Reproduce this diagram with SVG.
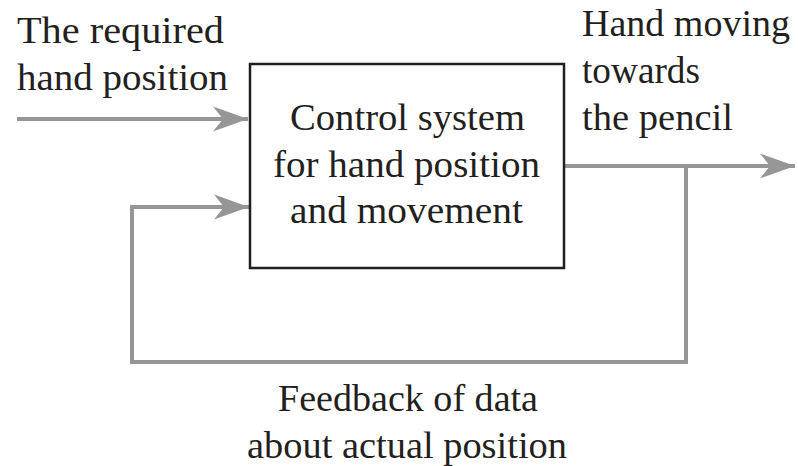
<svg xmlns="http://www.w3.org/2000/svg" width="798" height="466" viewBox="0 0 798 466">
<style>
text{font-family:"Liberation Serif","Times New Roman",serif;font-size:37px;fill:#231f20}
.c{stroke:#969696;stroke-width:4;fill:none}
.box{fill:#fff;stroke:#231f20;stroke-width:2.5}
</style>
<defs>
<marker id="ah" markerUnits="userSpaceOnUse" viewBox="-36 -14 38 28" markerWidth="38" markerHeight="28" refX="0" refY="0" orient="auto">
<path d="M0,0 L-35,-12.5 L-25,0 L-35,12.5 Z" fill="#969696"/>
</marker>
</defs>
<rect width="798" height="466" fill="#fff"/>
<g id="connectors">
<path class="c" d="M17,119 H248" marker-end="url(#ah)"/>
<path class="c" d="M565,166 H795" marker-end="url(#ah)"/>
<path class="c" d="M686,166 V362 H132 V207 H249" marker-end="url(#ah)"/>
</g>
<g id="controller">
<rect class="box" x="250" y="64" width="314" height="204"/>
<text x="290" y="130" textLength="235" lengthAdjust="spacingAndGlyphs">Control system</text>
<text x="273" y="177" textLength="267" lengthAdjust="spacingAndGlyphs">for hand position</text>
<text x="290" y="223" textLength="233" lengthAdjust="spacingAndGlyphs">and movement</text>
</g>
<g id="input-label">
<text x="17" y="43" textLength="207" lengthAdjust="spacingAndGlyphs">The required</text>
<text x="17" y="90" textLength="211" lengthAdjust="spacingAndGlyphs">hand position</text>
</g>
<g id="output-label">
<text x="582" y="36" textLength="208" lengthAdjust="spacingAndGlyphs">Hand moving</text>
<text x="582" y="83" textLength="118" lengthAdjust="spacingAndGlyphs">towards</text>
<text x="582" y="130" textLength="151" lengthAdjust="spacingAndGlyphs">the pencil</text>
</g>
<g id="feedback-label">
<text x="278" y="411" textLength="260" lengthAdjust="spacingAndGlyphs">Feedback of data</text>
<text x="247" y="458" textLength="320" lengthAdjust="spacingAndGlyphs">about actual position</text>
</g>
</svg>
